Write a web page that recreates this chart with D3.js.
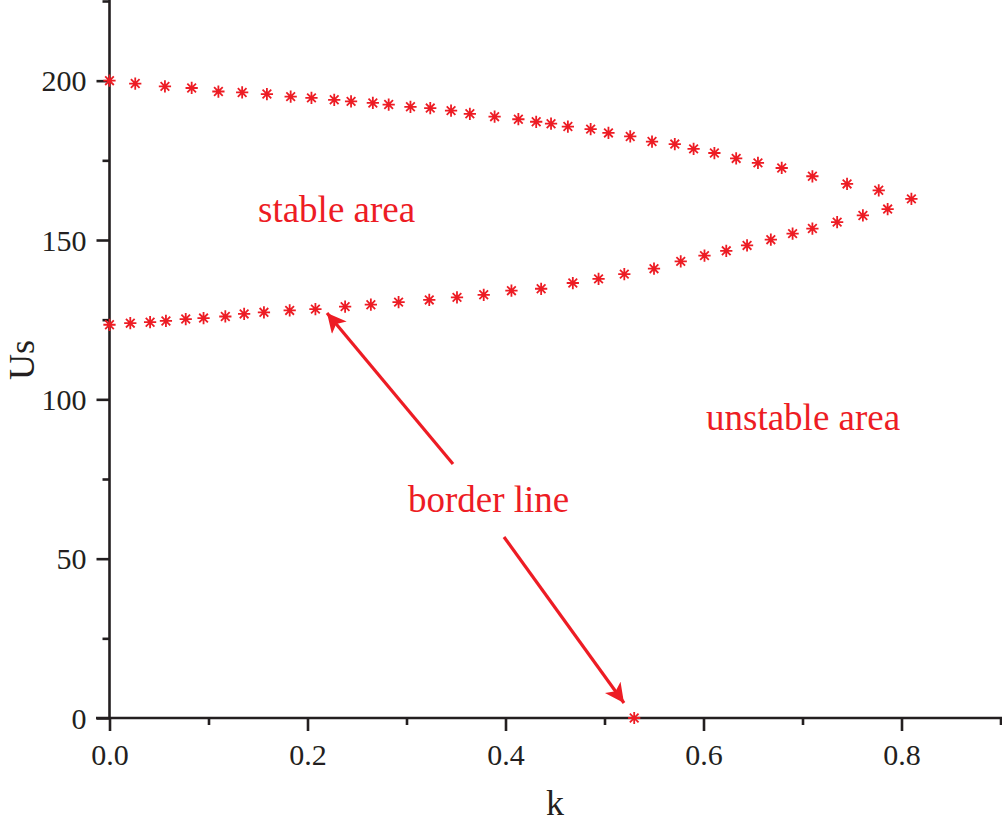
<!DOCTYPE html>
<html>
<head>
<meta charset="utf-8">
<script src="https://cdn.jsdelivr.net/npm/d3@7"></script>
<style>
  body { margin: 0; background: #fff; }
  svg { display: block; }
  text { font-family: "Liberation Serif", "Times New Roman", serif; }
</style>
</head>
<body>
<svg id="chart" width="1002" height="824"></svg>
<script>
// upper branch of the border line
let upper_k = [0.000, 0.026, 0.056, 0.083, 0.110, 0.134, 0.159, 0.183, 0.204, 0.227,
  0.244, 0.266, 0.282, 0.304, 0.324, 0.345, 0.364, 0.389, 0.413, 0.431,
  0.446, 0.463, 0.486, 0.504, 0.526, 0.548, 0.571, 0.590, 0.611, 0.633,
  0.655, 0.679, 0.710, 0.745, 0.777, 0.810],
  upper_us = [200.0, 199.1, 198.2, 197.7, 196.6, 196.3, 195.8, 195.0, 194.6, 194.0,
  193.5, 193.0, 192.5, 191.8, 191.4, 190.6, 189.6, 188.7, 187.9, 187.1,
  186.5, 185.6, 184.8, 183.6, 182.5, 180.9, 180.1, 178.6, 177.3, 175.6,
  174.2, 172.6, 170.0, 167.6, 165.6, 162.9];

// lower branch
let lower_k = [0.000, 0.021, 0.041, 0.057, 0.077, 0.095, 0.117, 0.136, 0.156, 0.182,
  0.208, 0.238, 0.264, 0.292, 0.323, 0.351, 0.378, 0.406, 0.436, 0.468,
  0.494, 0.520, 0.550, 0.577, 0.601, 0.623, 0.644, 0.668, 0.690, 0.710,
  0.735, 0.761, 0.786],
  lower_us = [123.4, 123.9, 124.2, 124.6, 125.2, 125.5, 126.0, 126.8, 127.3, 127.9,
  128.3, 129.1, 129.7, 130.5, 131.2, 132.0, 132.8, 134.1, 134.7, 136.5,
  137.8, 139.3, 141.0, 143.3, 145.1, 146.6, 148.3, 150.1, 152.0, 153.6,
  155.6, 157.7, 159.7];

// lone point on the k axis
let zero_k = [0.530],
  zero_us = [0];

let x_major = [0, 0.2, 0.4, 0.6, 0.8],
  x_minor = [0.1, 0.3, 0.5, 0.7, 0.9],
  y_major = [0, 50, 100, 150, 200],
  y_minor = [25, 75, 125, 175, 225];

let red = "#ed1c24",
  ink = "#231f20";

let svg = d3.select("#chart");

let x = d3.scaleLinear().domain([0, 0.9]).range([109.5, 1000.5]),
  y = d3.scaleLinear().domain([0, 225]).range([718, 1]);

// 8-armed star like Origin's marker
let star = {
  draw(context, size) {
    let r = Math.sqrt(size) / 2,
      d = r * Math.SQRT1_2;
    context.moveTo(-r, 0); context.lineTo(r, 0);
    context.moveTo(0, -r); context.lineTo(0, r);
    context.moveTo(-d, -d); context.lineTo(d, d);
    context.moveTo(-d, d); context.lineTo(d, -d);
  }
};

// axes
let x_axis = svg.append("g").attr("transform", "translate(0,718)");
x_axis.call(d3.axisBottom(x).tickValues(x_major).tickSize(13).tickFormat(d3.format(".1f")));
x_axis.append("g").call(d3.axisBottom(x).tickValues(x_minor).tickSize(7).tickFormat(""))
  .select(".domain").remove();

let y_axis = svg.append("g").attr("transform", "translate(109.5,0)");
y_axis.call(d3.axisLeft(y).tickValues(y_major).tickSize(13).tickFormat(d3.format("d")));
y_axis.append("g").call(d3.axisLeft(y).tickValues(y_minor).tickSize(7).tickFormat(""))
  .select(".domain").remove();

x_axis.select(".domain").attr("d", "M96,0H1002");
y_axis.select(".domain").attr("d", "M0,0V718");

svg.selectAll(".domain, .tick line")
  .attr("stroke", ink)
  .attr("stroke-width", 2.6);

x_axis.selectAll(".tick text")
  .attr("y", 47).attr("dy", 0)
  .attr("font-size", 30).attr("fill", ink)
  .attr("font-family", "Liberation Serif, Times New Roman, serif");
y_axis.selectAll(".tick text")
  .attr("x", -23).attr("dy", "0.34em")
  .attr("font-size", 30).attr("fill", ink)
  .attr("font-family", "Liberation Serif, Times New Roman, serif");

// axis titles (nudged in so they are not clipped by the edge)
svg.append("text")
  .attr("x", x(0.45)).attr("y", 815)
  .attr("text-anchor", "middle")
  .attr("font-size", 36).attr("fill", ink)
  .text("k");

svg.append("text")
  .attr("transform", "translate(34,360) rotate(-90)")
  .attr("text-anchor", "middle")
  .attr("font-size", 36).attr("fill", ink)
  .text("Us");

// markers
let points = [];
upper_k.forEach((k, i) => points.push([k, upper_us[i]]));
lower_k.forEach((k, i) => points.push([k, lower_us[i]]));
zero_k.forEach((k, i) => points.push([k, zero_us[i]]));

svg.append("g")
  .selectAll("path")
  .data(points).enter()
  .append("path")
  .attr("transform", d => `translate(${x(d[0])},${y(d[1])})`)
  .attr("d", d3.symbol().type(star).size(150))
  .attr("fill", "none")
  .attr("stroke", red)
  .attr("stroke-width", 1.8);

// annotations
svg.append("defs").append("marker")
  .attr("id", "head")
  .attr("viewBox", "0 0 10 10")
  .attr("refX", 10).attr("refY", 5)
  .attr("markerWidth", 7.5).attr("markerHeight", 6)
  .attr("markerUnits", "strokeWidth")
  .attr("orient", "auto")
  .append("path")
  .attr("d", "M0,0L10,5L0,10L2.5,5Z")
  .attr("fill", red);

let arrows = [
  [453, 464, 327, 313],
  [504, 537, 624, 703]
];
svg.append("g")
  .selectAll("line")
  .data(arrows).enter()
  .append("line")
  .attr("x1", d => d[0]).attr("y1", d => d[1])
  .attr("x2", d => d[2]).attr("y2", d => d[3])
  .attr("stroke", red)
  .attr("stroke-width", 3.2)
  .attr("marker-end", "url(#head)");

let labels = [
  ["stable area", 258, 222],
  ["unstable area", 706, 430],
  ["border line", 408, 512]
];
svg.append("g")
  .selectAll("text")
  .data(labels).enter()
  .append("text")
  .attr("x", d => d[1]).attr("y", d => d[2])
  .attr("font-size", 37)
  .attr("fill", red)
  .text(d => d[0]);
</script>
</body>
</html>
